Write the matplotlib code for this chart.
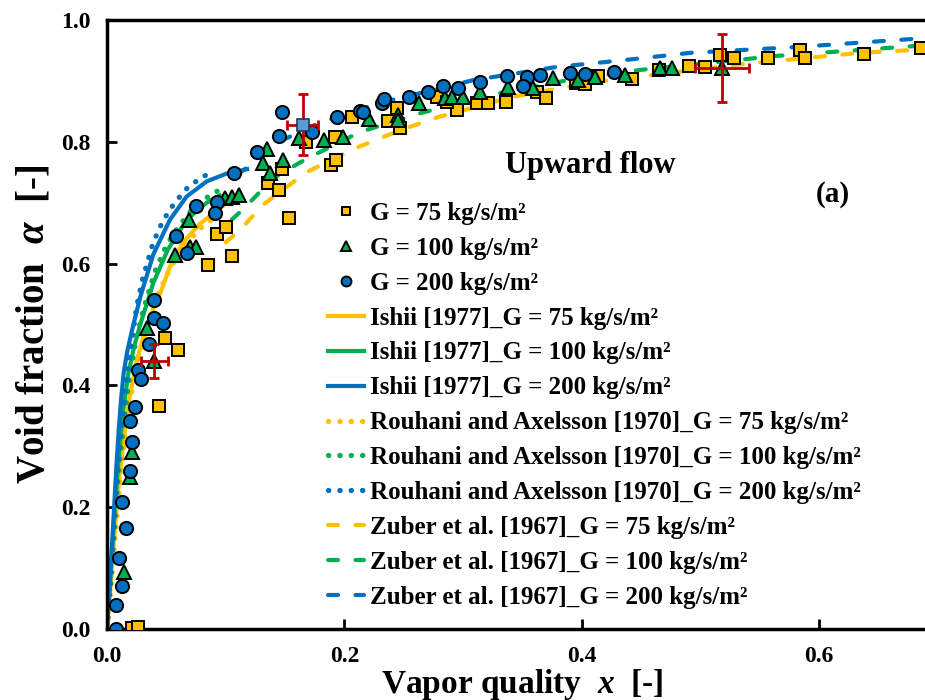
import matplotlib.pyplot as plt
import numpy as np

plt.rcParams['font.family'] = ['Liberation Serif', 'DejaVu Serif']
plt.rcParams['font.weight'] = 'bold'
plt.rcParams['axes.labelweight'] = 'bold'
plt.rcParams['mathtext.fontset'] = 'custom'
plt.rcParams['mathtext.it'] = 'Liberation Serif:bold:italic'
plt.rcParams['mathtext.rm'] = 'Liberation Serif:bold'

colors = {"75": "#FFC000", "100": "#00B050", "200": "#0070C0"}

# measured points (vapor quality, void fraction)
x75 = [0.021, 0.026, 0.044, 0.049, 0.060, 0.085, 0.093, 0.100, 0.105, 0.136, 0.145, 0.147, 0.153,
       0.168, 0.192, 0.206, 0.189, 0.193, 0.244, 0.237, 0.247, 0.278, 0.295, 0.286, 0.312, 0.321,
       0.336, 0.362, 0.370, 0.395, 0.403, 0.414, 0.442, 0.465, 0.490, 0.504, 0.516, 0.528, 0.557,
       0.584, 0.588, 0.638, 0.686]
a75 = [0.002, 0.003, 0.366, 0.478, 0.458, 0.598, 0.649, 0.660, 0.613, 0.732, 0.721, 0.755, 0.675,
       0.800, 0.808, 0.841, 0.762, 0.770, 0.855, 0.834, 0.823, 0.874, 0.852, 0.865, 0.864, 0.864,
       0.865, 0.882, 0.872, 0.897, 0.895, 0.908, 0.903, 0.918, 0.924, 0.923, 0.942, 0.938, 0.938,
       0.951, 0.938, 0.944, 0.954]

x100 = [0.014, 0.019, 0.021, 0.040, 0.034, 0.057, 0.070, 0.075, 0.069, 0.099, 0.105, 0.111, 0.131,
        0.135, 0.137, 0.148, 0.162, 0.183, 0.199, 0.221, 0.245, 0.245, 0.263, 0.285, 0.291, 0.300,
        0.314, 0.338, 0.359, 0.376, 0.397, 0.411, 0.436, 0.466, 0.476, 0.518]
a100 = [0.094, 0.250, 0.291, 0.440, 0.494, 0.614, 0.627, 0.627, 0.672, 0.708, 0.709, 0.713, 0.765,
        0.788, 0.749, 0.770, 0.806, 0.803, 0.808, 0.837, 0.844, 0.836, 0.864, 0.872, 0.874, 0.874,
        0.882, 0.890, 0.888, 0.905, 0.901, 0.906, 0.910, 0.921, 0.921, 0.921]

x200 = [0.008, 0.008, 0.013, 0.010, 0.016, 0.013, 0.019, 0.021, 0.019, 0.024, 0.026, 0.029, 0.035,
        0.040, 0.047, 0.040, 0.058, 0.067, 0.075, 0.093, 0.091, 0.107, 0.126, 0.147, 0.145, 0.173,
        0.194, 0.213, 0.216, 0.232, 0.233, 0.254, 0.270, 0.283, 0.296, 0.314, 0.337, 0.354, 0.350,
        0.365, 0.390, 0.403, 0.427]
a200 = [0.000, 0.039, 0.071, 0.117, 0.166, 0.209, 0.259, 0.307, 0.342, 0.365, 0.425, 0.410, 0.468,
        0.511, 0.502, 0.540, 0.645, 0.617, 0.695, 0.701, 0.683, 0.749, 0.783, 0.849, 0.810, 0.816,
        0.841, 0.851, 0.849, 0.864, 0.870, 0.874, 0.882, 0.892, 0.888, 0.898, 0.908, 0.906, 0.892,
        0.910, 0.913, 0.911, 0.915]

# uncertainty bars
err_x = [0.040, 0.165, 0.518]
err_a = [0.440, 0.828, 0.921]
err_dx = [0.011, 0.013, 0.023]
err_da = [0.028, 0.050, 0.056]
hl_x, hl_a = [0.165], [0.828]

# Ishii [1977]
ishii_x200 = [0, 0.002, 0.004, 0.006, 0.008, 0.010, 0.012, 0.014, 0.017, 0.021, 0.028, 0.039, 0.053,
              0.067, 0.084, 0.101, 0.118]
ishii_a200 = [0, 0.06, 0.13, 0.20, 0.27, 0.33, 0.38, 0.42, 0.455, 0.49, 0.545, 0.615, 0.672,
              0.71, 0.735, 0.748, 0.755]
ishii_x100 = [0, 0.003, 0.006, 0.009, 0.013, 0.018, 0.023, 0.028, 0.039, 0.051, 0.067, 0.084, 0.095]
ishii_a100 = [0, 0.09, 0.18, 0.26, 0.35, 0.42, 0.465, 0.50, 0.568, 0.622, 0.672, 0.70, 0.712]
ishii_x75 = [0, 0.003, 0.006, 0.010, 0.014, 0.019, 0.025, 0.032, 0.040, 0.045, 0.053, 0.064, 0.078,
             0.090, 0.098]
ishii_a75 = [0, 0.07, 0.15, 0.24, 0.31, 0.38, 0.44, 0.49, 0.53, 0.552, 0.595, 0.635, 0.665,
             0.683, 0.695]

# Rouhani and Axelsson [1970]
rou_x200 = [0, 0.003, 0.006, 0.009, 0.012, 0.016, 0.020, 0.025, 0.030, 0.039, 0.047, 0.057, 0.068,
            0.080, 0.091]
rou_a200 = [0, 0.08, 0.17, 0.26, 0.33, 0.40, 0.46, 0.53, 0.575, 0.635, 0.67, 0.70, 0.725,
            0.742, 0.752]
rou_x100 = [0, 0.003, 0.006, 0.009, 0.013, 0.018, 0.024, 0.030, 0.040, 0.050, 0.060, 0.070, 0.080,
            0.090, 0.098]
rou_a100 = [0, 0.08, 0.16, 0.24, 0.32, 0.40, 0.47, 0.52, 0.585, 0.63, 0.66, 0.685, 0.703,
            0.716, 0.724]
rou_x75 = [0, 0.003, 0.006, 0.010, 0.014, 0.019, 0.025, 0.032, 0.040, 0.050, 0.060, 0.070, 0.080,
           0.090]
rou_a75 = [0, 0.06, 0.13, 0.22, 0.30, 0.37, 0.43, 0.485, 0.535, 0.58, 0.615, 0.64, 0.66, 0.675]

# Zuber et al. [1967]
zub_x200 = [0.110, 0.148, 0.179, 0.230, 0.264, 0.308, 0.379, 0.435, 0.491, 0.584, 0.687, 0.700]
zub_a200 = [0.746, 0.803, 0.831, 0.864, 0.880, 0.901, 0.923, 0.934, 0.946, 0.956, 0.970, 0.971]
zub_x100 = [0.105, 0.115, 0.130, 0.144, 0.168, 0.213, 0.264, 0.323, 0.385, 0.449, 0.564, 0.700]
zub_a100 = [0.672, 0.690, 0.720, 0.745, 0.772, 0.816, 0.847, 0.877, 0.900, 0.918, 0.941, 0.960]
zub_x75 = [0.100, 0.112, 0.131, 0.168, 0.211, 0.247, 0.278, 0.342, 0.407, 0.527, 0.634, 0.700]
zub_a75 = [0.635, 0.655, 0.696, 0.750, 0.791, 0.819, 0.840, 0.874, 0.897, 0.926, 0.946, 0.953]

fig = plt.figure(figsize=(9.25, 7), dpi=100)
ax = fig.add_axes([107/925, 71/700, 831/925, 609/700])

lab = "kg/s/m\u00b2"
h_pts = []
h_pts += ax.plot(x75, a75, "s", ms=8.5, mfc=colors["75"], mec="black", mew=1.4, ls="none",
                 zorder=4, label="G = 75 " + lab)
h_pts += ax.plot(x100, a100, "^", ms=9.5, mfc=colors["100"], mec="black", mew=1.4, ls="none",
                 zorder=5, label="G = 100 " + lab)
h_pts += ax.plot(x200, a200, "o", ms=9.5, mfc=colors["200"], mec="black", mew=1.4, ls="none",
                 zorder=6, label="G = 200 " + lab)

ax.errorbar(err_x, err_a, xerr=err_dx, yerr=err_da, fmt="none", ecolor="#C00000", elinewidth=2,
            capsize=3.5, capthick=2, zorder=7)
ax.plot(hl_x, hl_a, "s", ms=8.5, mfc="#5B9BD5", mec="#1F3864", mew=1.2, zorder=8)

lw = 3
dot = dict(ls=(0, (0.05, 2.1)), dash_capstyle="round", lw=3.8)
dash = dict(ls=(0, (2.4, 4.2)), dash_capstyle="round", lw=lw)
h_lines = []
for g, xs, ys in [("75", ishii_x75, ishii_a75), ("100", ishii_x100, ishii_a100),
                  ("200", ishii_x200, ishii_a200)]:
    h_lines += ax.plot(xs, ys, color=colors[g], lw=lw, zorder=2,
                       label="Ishii [1977]_G = %s %s" % (g, lab))
for g, xs, ys in [("75", rou_x75, rou_a75), ("100", rou_x100, rou_a100),
                  ("200", rou_x200, rou_a200)]:
    h_lines += ax.plot(xs, ys, color=colors[g], zorder=2,
                       label="Rouhani and Axelsson [1970]_G = %s %s" % (g, lab), **dot)
for g, xs, ys in [("75", zub_x75, zub_a75), ("100", zub_x100, zub_a100),
                  ("200", zub_x200, zub_a200)]:
    h_lines += ax.plot(xs, ys, color=colors[g], zorder=2,
                       label="Zuber et al. [1967]_G = %s %s" % (g, lab), **dash)

ax.set_xlim(0, 0.7)
ax.set_ylim(0, 1.0)
ax.set_xticks([0.0, 0.2, 0.4, 0.6])
ax.set_yticks([0.0, 0.2, 0.4, 0.6, 0.8, 1.0])
ax.set_xticklabels(["0.0", "0.2", "0.4", "0.6"])
ax.set_yticklabels(["0.0", "0.2", "0.4", "0.6", "0.8", "1.0"])
ax.tick_params(direction="in", length=7, width=2, labelsize=17, pad=12)
for s in ax.spines.values():
    s.set_linewidth(2.5)

ax.set_xlabel("Vapor quality  $x$  [-]", fontsize=24, labelpad=0)
ax.set_ylabel("Void fraction  $\\alpha$  [-]", fontsize=28, labelpad=6)

fig.text(590/925, 1 - 166/700, "Upward flow", fontsize=22, ha="center", va="center")
fig.text(833/925, 1 - 194/700, "(a)", fontsize=21, ha="center", va="center")

leg = ax.legend(handles=h_pts + h_lines, loc="upper left", bbox_to_anchor=(328/925, 1 - 202/700),
                bbox_transform=fig.transFigure, frameon=False, fontsize=18, markerscale=0.75,
                handlelength=1.45, handletextpad=0.22, labelspacing=0.475, borderpad=0,
                borderaxespad=0)

plt.savefig("out.png", dpi=100)
